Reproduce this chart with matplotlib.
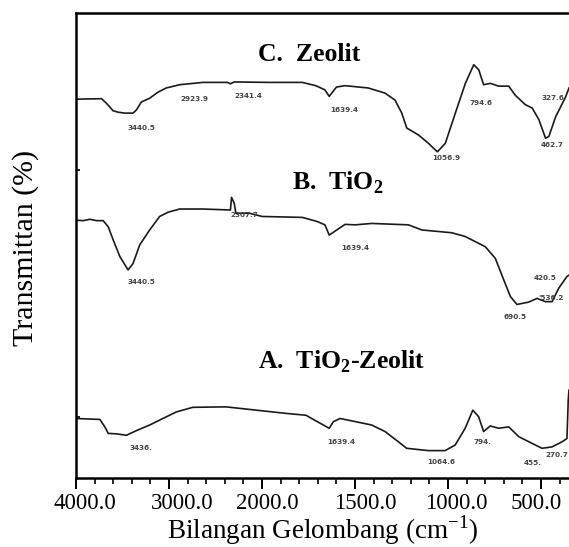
import numpy as np
import matplotlib.pyplot as plt
from matplotlib.ticker import FixedLocator, FixedFormatter
from matplotlib.transforms import ScaledTranslation

# spektrum FTIR (bilangan gelombang cm-1, transmitan relatif)
wn_c = [4000, 3725, 3672, 3601, 3547, 3476, 3387, 3350, 3297, 3208, 3119, 3030,
        2887, 2638, 2370, 2341, 2299, 1962, 1784, 1711, 1662, 1639, 1600, 1554,
        1429, 1339, 1285, 1249, 1222, 1159, 1105, 1069, 1057, 1015, 961, 907,
        862, 835, 809, 773, 728, 674, 638, 584, 548, 512, 476, 458, 422, 368, 350]
t_c = [81.4, 81.5, 80.5, 78.9, 78.6, 78.4, 78.4, 79.1, 80.8, 81.6, 82.9, 83.8,
       84.5, 85.0, 85.0, 84.7, 85.1, 85.0, 85.0, 84.3, 83.4, 82.0, 84.0, 84.3,
       83.8, 82.7, 81.2, 78.4, 75.2, 73.7, 71.9, 70.5, 70.1, 71.9, 78.4, 84.8,
       88.8, 87.7, 84.5, 84.8, 84.2, 84.2, 82.2, 80.2, 79.5, 77.0, 73.0, 73.4,
       77.6, 81.9, 83.8]

wn_b = [4000, 3922, 3850, 3779, 3708, 3654, 3601, 3529, 3440, 3387, 3315, 3208,
        3101, 3012, 2887, 2638, 2352, 2340, 2328, 2299, 2281, 2138, 2000, 1783,
        1702, 1662, 1639, 1554, 1500, 1411, 1213, 1141, 980, 908, 800, 746, 701,
        665, 630, 567, 522, 477, 441, 405, 361, 350]
t_b = [55.4, 55.3, 55.6, 55.3, 55.3, 54.0, 51.2, 47.6, 44.7, 46.1, 50.1, 53.3,
       56.2, 57.1, 57.8, 57.8, 57.6, 57.6, 60.3, 59.0, 56.9, 56.9, 56.2, 56.0,
       55.1, 54.4, 52.2, 54.5, 54.4, 54.7, 54.4, 53.3, 52.7, 51.9, 49.7, 47.2,
       42.6, 39.0, 37.3, 37.8, 38.6, 37.9, 37.9, 40.8, 43.3, 43.6]

wn_a = [4000, 3743, 3690, 3654, 3565, 3458, 3350, 3208, 3066, 2923, 2745, 2388,
        2067, 1872, 1764, 1702, 1639, 1617, 1581, 1519, 1411, 1339, 1267, 1223,
        1106, 1016, 962, 908, 867, 836, 809, 773, 728, 674, 620, 566, 495, 441,
        387, 361, 354, 350]
t_a = [12.8, 12.6, 11.0, 9.6, 9.5, 9.2, 10.2, 11.4, 12.8, 14.2, 15.2, 15.3,
       14.6, 13.9, 13.5, 12.1, 10.7, 12.1, 12.8, 12.3, 11.4, 10.0, 7.8, 6.4,
       5.9, 5.9, 7.1, 10.7, 14.6, 13.2, 10.0, 11.2, 10.7, 11.0, 8.9, 7.8, 6.4,
       6.7, 7.8, 8.5, 16.8, 18.9]

# label puncak: (teks, x, y, rata)
peaks_c = [("3440.5", 3297, 75.2, "center"), ("2923.9", 2727, 81.4, "center"),
           ("2341.4", 2149, 82.1, "center"), ("1639.4", 1558, 79.1, "center"),
           ("1056.9", 1011, 68.7, "center"), ("794.6", 822, 80.5, "center"),
           ("327.6", 498, 81.6, "left"), ("462.7", 503, 71.6, "left")]
peaks_b = [("3440.5", 3297, 42.2, "center"), ("2307.7", 2192, 56.5, "center"),
           ("1639.4", 1500, 49.4, "center"), ("690.5", 638, 34.7, "center"),
           ("420.5", 539, 43.0, "left"), ("'536.2", 514, 38.7, "left")]
peaks_a = [("3436.", 3297, 6.4, "center"), ("1639.4", 1573, 7.8, "center"),
           ("1064.6", 1036, 3.5, "center"), ("794.", 813, 7.8, "center"),
           ("455.", 545, 3.2, "center"), ("270.7", 476, 4.9, "left")]

titles = [("C.  Zeolit", 1747, 91.1),
          ("B.  TiO$_\\mathbf{2}$", 1596, 63.4),
          ("A.  TiO$_\\mathbf{2}$-Zeolit", 1574, 24.9)]

major_ticks = [4000, 3000, 2000, 1500, 1000, 500]
major_labels = ["4000.0", "3000.0", "2000.0", "1500.0", "1000.0", "500.0"]
label_shift = [9, 13, 5, 10, 8, -5]  # geser label sumbu x (piksel)
minor_ticks = [w for w in list(range(3800, 2000, -200)) + list(range(1900, 300, -100))
               if w not in major_ticks]


# skala dua kali lebih rapat di bawah 2000 cm-1
def fwd(w):
    w = np.asarray(w, dtype=float)
    return np.where(w >= 2000, w, 2 * w - 2000)


def inv(t):
    t = np.asarray(t, dtype=float)
    return np.where(t >= 2000, t, (t + 2000) / 2)


plt.rcParams['font.family'] = ['Liberation Serif', 'DejaVu Serif']
plt.rcParams['mathtext.fontset'] = 'custom'
plt.rcParams['mathtext.rm'] = 'Liberation Serif'
plt.rcParams['mathtext.bf'] = 'Liberation Serif:bold'

fig = plt.figure(figsize=(5.69, 5.47), dpi=100)
ax = fig.add_axes([0.1336, 0.126, 0.8664, 0.851])

ax.set_xscale('function', functions=(fwd, inv))
ax.set_xlim(4000, 350)
ax.set_ylim(0, 100)

for wn, t in [(wn_c, t_c), (wn_b, t_b), (wn_a, t_a)]:
    ax.plot(wn, t, color='#1a1a1a', lw=1.2)

for peaks in [peaks_c, peaks_b, peaks_a]:
    for txt, x, y, ha in peaks:
        ax.text(x, y, txt, fontsize=5.2, family='DejaVu Sans', fontweight='bold',
                color='#444444', ha=ha, va='center')

for txt, x, y in titles:
    ax.text(x, y, txt, fontsize=18.5, fontweight='bold', ha='center', va='center')

ax.xaxis.set_major_locator(FixedLocator(major_ticks))
ax.xaxis.set_major_formatter(FixedFormatter(major_labels))
ax.xaxis.set_minor_locator(FixedLocator(minor_ticks))
ax.tick_params(axis='x', which='major', direction='out', length=8, width=1.4,
               labelsize=16.5, pad=3)
ax.tick_params(axis='x', which='minor', direction='out', length=4, width=1.2)
for lbl, dx in zip(ax.get_xticklabels(), label_shift):
    lbl.set_transform(lbl.get_transform() + ScaledTranslation(dx / 100, 0, fig.dpi_scale_trans))

ax.set_yticks([13.1, 66.2])
ax.tick_params(axis='y', direction='in', length=3, width=1.2, labelleft=False)

for side in ['left', 'top', 'bottom']:
    ax.spines[side].set_linewidth(1.8)
ax.spines['right'].set_visible(False)

ax.set_xlabel('Bilangan Gelombang (cm$^{\\mathregular{-1}}$)', fontsize=19.5, labelpad=-1)
fig.text(26 / 569, 1 - 248 / 547, 'Transmittan (%)', rotation=90, fontsize=21.5,
         ha='center', va='center')

fig.savefig('out.png', dpi=100)
